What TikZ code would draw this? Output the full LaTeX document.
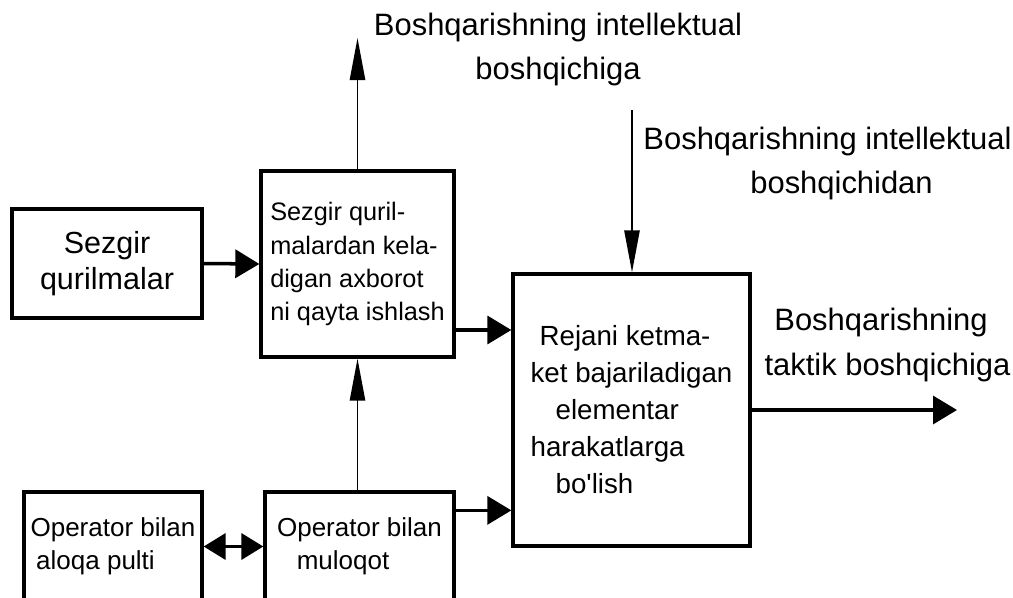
\documentclass[tikz,border=0pt]{standalone}
\usepackage{fontspec}
\setmainfont{Liberation Sans}
\usetikzlibrary{arrows.meta,calc}

\begin{document}
\begin{tikzpicture}[x=0.025cm,y=-0.025cm,
  blok/.style={draw,line width=2.3pt,inner sep=0pt},
  hline/.style={line width=2.5pt,-{Triangle[length=0.6cm,width=0.7cm]}},
  vline/.style={line width=1.4pt,-{Triangle[length=1.05cm,width=0.38cm]}}]
  \clip (0,0) rectangle (1013,598);

  % Blocks
  \node[blok,minimum width=4.75cm,minimum height=2.725cm,align=center,
        font=\fontsize{21.7}{26}\selectfont] (sensor) at (107,263.5)
        {Sezgir\\qurilmalar};
  \node[blok,minimum width=4.825cm,minimum height=4.65cm,align=left,
        font=\fontsize{18}{23.5}\selectfont] (proc) at (357.5,264)
        {Sezgir quril-\\malardan kela-\\digan axborot\\ni qayta ishlash};
  \node[blok,minimum width=5.925cm,minimum height=6.8cm,align=left,
        font=\fontsize{19.7}{26.3}\selectfont] (plan) at (631.5,410)
        {\hspace*{6.4pt}Rejani ketma-\\ket bajariladigan\\\hspace*{17.8pt}elementar\\harakatlarga\\\hspace*{17.8pt}bo\textquotesingle lish};
  \node[blok,minimum width=4.45cm,minimum height=2.725cm,align=left,
        font=\fontsize{18.5}{23.5}\selectfont] (pult) at (113,546.5)
        {Operator bilan\\\hspace*{4pt}aloqa pulti};
  \node[blok,minimum width=4.725cm,minimum height=2.725cm,align=left,
        font=\fontsize{18.5}{23.5}\selectfont] (dialog) at (359.5,546.5)
        {Operator bilan\\\hspace*{14pt}muloqot};

  % Outer labels
  \node[align=center,font=\fontsize{22}{32}\selectfont] (toplbl) at (558,49.5)
        {Boshqarishning intellektual\\boshqichiga};
  \node[align=left,font=\fontsize{22}{30.6}\selectfont] (fromlbl) at (827.5,163.5)
        {Boshqarishning intellektual\\\hspace*{76pt}boshqichidan};
  \node[align=left,font=\fontsize{22}{32}\selectfont] (taklbl) at (887.5,344.5)
        {\hspace*{7pt}Boshqarishning\\taktik boshqichiga};

  % Free ends
  \coordinate (up) at (357.5,38);
  \coordinate (down) at (632,110);
  \coordinate (out) at (957,410);

  % Connectors
  \draw[hline] (sensor.east) -- (proc.west);
  \draw[hline] ($(proc.east)+(0,66)$) coordinate (p1) -- (p1 -| plan.west);
  \draw[vline] (proc.north) -- (up);
  \draw[vline] (down) -- (down |- plan.north);
  \draw[hline] (plan.east) -- (out);
  \draw[vline] (proc.south |- dialog.north) -- (proc.south);
  \draw[hline] ($(dialog.north east)+(0,20)$) coordinate (p2) -- (p2 -| plan.west);
  \draw[line width=2.5pt,{Triangle[length=0.55cm,width=0.65cm]}-{Triangle[length=0.55cm,width=0.65cm]}]
    (pult.east) -- (dialog.west);
\end{tikzpicture}
\end{document}
